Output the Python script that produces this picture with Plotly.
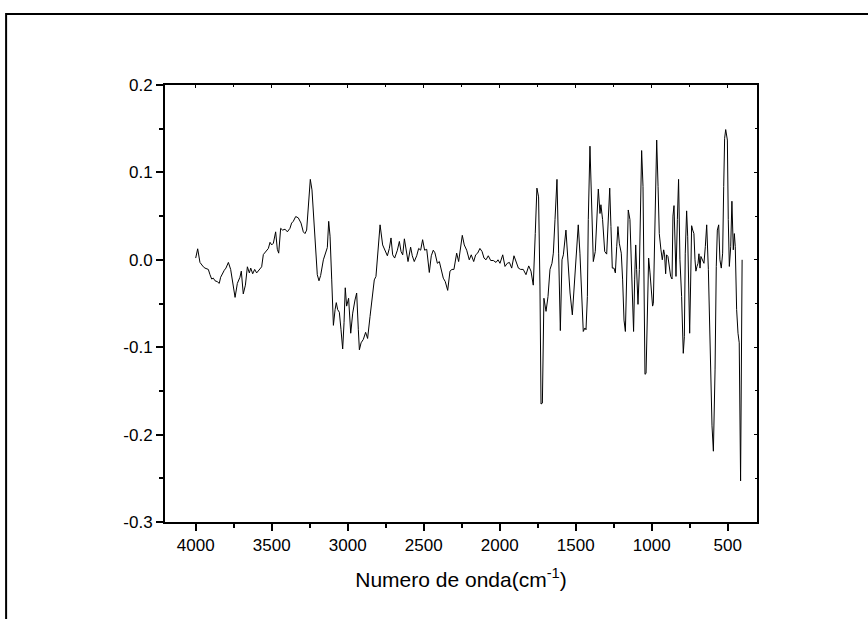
import plotly.graph_objects as go

# Wavenumber (cm-1) and signal values
wavenumber = [
    4000, 3987, 3972, 3961, 3950, 3939, 3917, 3906, 3895, 3884, 3873, 3858, 3845,
    3836, 3823, 3812, 3801, 3785, 3770, 3757, 3741, 3726, 3709, 3700, 3687, 3673,
    3660, 3647, 3638, 3625, 3612, 3599, 3581, 3566, 3555, 3538, 3522, 3511, 3500,
    3489, 3474, 3463, 3454, 3441, 3428, 3412, 3397, 3380, 3369, 3358, 3342, 3325,
    3307, 3292, 3281, 3270, 3257, 3246, 3235, 3215, 3200, 3189, 3178, 3160, 3143,
    3134, 3125, 3116, 3105, 3094, 3083, 3075, 3066, 3055, 3044, 3033, 3024, 3016,
    3007, 2994, 2980, 2967, 2952, 2941, 2930, 2923, 2912, 2897, 2882, 2869, 2853,
    2836, 2825, 2814, 2803, 2787, 2770, 2755, 2739, 2726, 2715, 2704, 2691, 2673,
    2660, 2649, 2638, 2627, 2616, 2603, 2586, 2575, 2562, 2546, 2533, 2520, 2507,
    2494, 2480, 2463, 2450, 2437, 2426, 2410, 2397, 2384, 2371, 2358, 2342, 2327,
    2314, 2301, 2283, 2270, 2259, 2246, 2233, 2217, 2200, 2187, 2171, 2158, 2145,
    2130, 2116, 2103, 2090, 2075, 2059, 2042, 2024, 2011, 1998, 1980, 1965, 1950,
    1936, 1921, 1906, 1893, 1877, 1862, 1845, 1827, 1809, 1794, 1779, 1766, 1755,
    1744, 1735, 1728, 1719, 1709, 1695, 1682, 1669, 1656, 1647, 1636, 1623, 1612,
    1601, 1590, 1581, 1564, 1551, 1537, 1522, 1511, 1498, 1483, 1472, 1461, 1450,
    1439, 1432, 1423, 1417, 1406, 1397, 1384, 1371, 1362, 1351, 1340, 1334, 1323,
    1309, 1296, 1285, 1276, 1268, 1259, 1248, 1239, 1230, 1222, 1213, 1200, 1191,
    1182, 1173, 1165, 1154, 1143, 1134, 1125, 1119, 1112, 1105, 1099, 1090, 1081,
    1073, 1066, 1057, 1051, 1044, 1037, 1029, 1020, 1011, 1000, 994, 989, 980,
    974, 967, 958, 950, 939, 930, 921, 915, 908, 902, 893, 884, 875, 866, 860,
    853, 847, 840, 831, 823, 814, 803, 792, 785, 779, 770, 763, 757, 750, 744,
    737, 730, 722, 715, 709, 702, 695, 689, 682, 676, 667, 656, 647, 638, 627,
    616, 603, 594, 583, 575, 568, 559, 551, 542, 533, 526, 520, 513, 502, 496,
    489, 480, 472, 463, 456, 450, 441, 432, 424, 415, 405, 402,
]
signal = [
    0.002, 0.0126, -0.003, -0.006, -0.008, -0.0095, -0.011, -0.017, -0.022, -0.021, -0.024, -0.025, -0.027,
    -0.02, -0.015, -0.012, -0.0095, -0.003, -0.011, -0.027, -0.043, -0.027, -0.02, -0.013, -0.039, -0.029,
    -0.008, -0.015, -0.0095, -0.016, -0.011, -0.015, -0.011, -0.008, 0.006, 0.0095, 0.013, 0.02, 0.017,
    0.019, 0.032, 0.012, 0.0076, 0.036, 0.034, 0.035, 0.032, 0.036, 0.042, 0.044, 0.0495, 0.048,
    0.042, 0.032, 0.03, 0.034, 0.072, 0.092, 0.08, 0.027, -0.017, -0.024, -0.018, 0.0, 0.011,
    0.014, 0.044, 0.027, -0.023, -0.075, -0.057, -0.049, -0.057, -0.06, -0.08, -0.102, -0.072, -0.032,
    -0.053, -0.044, -0.084, -0.061, -0.046, -0.038, -0.08, -0.103, -0.095, -0.091, -0.083, -0.09, -0.065,
    -0.036, -0.023, -0.019, 0.0057, 0.04, 0.017, 0.011, 0.0046, 0.013, 0.025, 0.0057, 0.002, 0.011,
    0.021, 0.0095, 0.0057, 0.024, 0.011, -0.002, 0.0145, 0.0046, -0.002, 0.0046, 0.013, 0.011, 0.023,
    0.011, 0.012, -0.0145, 0.0046, 0.011, 0.008, -0.004, -0.002, -0.011, -0.021, -0.025, -0.035, -0.013,
    -0.011, -0.011, 0.0076, -0.002, 0.013, 0.028, 0.017, 0.011, 0.0, 0.0057, -0.002, 0.0057, 0.0076,
    0.013, 0.0095, 0.002, 0.0, 0.0046, -0.0008, -0.0008, -0.003, 0.0, -0.004, 0.0057, -0.0076, -0.004,
    -0.003, -0.0095, 0.0046, -0.003, -0.0095, -0.011, -0.011, -0.017, -0.007, -0.013, -0.029, 0.03, 0.082,
    0.072, -0.03, -0.165, -0.164, -0.044, -0.059, -0.042, -0.011, -0.004, 0.0076, 0.046, 0.092, 0.0076,
    -0.081, 0.0, 0.0057, 0.034, -0.004, -0.038, -0.063, -0.03, 0.0, 0.04, 0.0076, -0.046, -0.082,
    -0.078, -0.08, -0.042, 0.046, 0.13, 0.076, -0.002, 0.0095, 0.046, 0.081, 0.053, 0.063, 0.046,
    0.0095, 0.0065, 0.046, 0.082, 0.038, -0.0095, -0.0095, -0.015, 0.015, 0.038, 0.019, 0.0076, -0.023,
    -0.069, -0.082, -0.023, 0.057, 0.046, 0.0, -0.061, -0.082, -0.023, 0.017, -0.011, -0.051, -0.011,
    0.065, 0.125, 0.084, -0.023, -0.131, -0.13, -0.069, 0.002, -0.015, -0.046, -0.053, -0.05, 0.027,
    0.103, 0.137, 0.084, 0.03, 0.0114, 0.0, 0.0114, 0.0057, -0.016, 0.0057, 0.0038, -0.0076, -0.019, -0.022, 0.05,
    0.062, 0.015, -0.019, 0.046, 0.092, 0.0, -0.042, -0.107, -0.088, 0.0076, 0.056, 0.027, -0.053, -0.084,
    -0.03, 0.039, 0.034, 0.03, 0.0, -0.013, -0.0076, -0.004, 0.0069, -0.0095, 0.0038, 0.0, -0.004, 0.015, 0.04,
    -0.011, -0.114, -0.19, -0.219, -0.126, -0.0076, 0.034, 0.04, 0.0, -0.0095, 0.0076, 0.084, 0.139, 0.149, 0.137,
    0.046, -0.0076, 0.015, 0.067, 0.0114, 0.03, 0.015, -0.057, -0.084, -0.095, -0.253, 0.0,
]

x_tick_values = [4000, 3500, 3000, 2500, 2000, 1500, 1000, 500]
y_tick_values = [-0.3, -0.2, -0.1, 0.0, 0.1, 0.2]
y_tick_labels = ["-0.3", "-0.2", "-0.1", "0.0", "0.1", "0.2"]
x_title = "Numero de onda(cm<sup>-1</sup>)"
x_range = [4202, 307]
y_range = [-0.3, 0.2]

FONT = "Arial, Liberation Sans, sans-serif"

fig = go.Figure()
fig.add_trace(go.Scatter(
    x=wavenumber, y=signal, mode="lines",
    line=dict(color="black", width=1),
    showlegend=False, hoverinfo="skip",
))
# invisible helper trace so the top/right tick axes are drawn
fig.add_trace(go.Scatter(
    x=[wavenumber[0]], y=[signal[0]], xaxis="x2", yaxis="y2", mode="markers",
    marker=dict(opacity=0), showlegend=False, hoverinfo="skip",
))

axis_common = dict(
    showgrid=False, zeroline=False,
    showline=True, linecolor="black", linewidth=2, mirror=True,
    ticks="outside", ticklen=7, tickwidth=1.5, tickcolor="black",
    tickfont=dict(family=FONT, size=17, color="black"),
)

fig.update_layout(
    xaxis=dict(
        range=x_range, tickvals=x_tick_values,
        minor=dict(ticks="outside", ticklen=4, tickwidth=1.5, tickcolor="black", dtick=250, tick0=0),
        title=dict(text=x_title, font=dict(family=FONT, size=21, color="black"), standoff=18),
        **axis_common,
    ),
    yaxis=dict(
        range=y_range, tickvals=y_tick_values, ticktext=y_tick_labels,
        minor=dict(ticks="outside", ticklen=4, tickwidth=1.5, tickcolor="black", dtick=0.05, tick0=0),
        **axis_common,
    ),
    xaxis2=dict(
        overlaying="x", side="top", anchor="y", range=x_range, tickvals=x_tick_values,
        showticklabels=False, ticks="inside", ticklen=3, tickwidth=1, tickcolor="black",
        minor=dict(ticks="inside", ticklen=2, tickwidth=1, tickcolor="black", dtick=250, tick0=0),
        showgrid=False, zeroline=False, showline=False,
    ),
    yaxis2=dict(
        overlaying="y", side="right", anchor="x", range=y_range, tickvals=y_tick_values,
        showticklabels=False, ticks="inside", ticklen=3, tickwidth=1, tickcolor="black",
        minor=dict(ticks="inside", ticklen=2, tickwidth=1, tickcolor="black", dtick=0.05, tick0=0),
        showgrid=False, zeroline=False, showline=False,
    ),
)

# Page frame (top and left edges visible)
fig.add_shape(type="rect", xref="paper", yref="paper",
              x0=-0.2684, x1=1.4, y0=-0.4, y1=1.1623,
              line=dict(color="black", width=2), layer="above")

fig.update_layout(
    width=868, height=619,
    margin=dict(l=165, r=110.5, t=85, b=96.5),
    plot_bgcolor="white", paper_bgcolor="white",
    font=dict(family=FONT, color="black"),
)

fig.write_html("out.html")
